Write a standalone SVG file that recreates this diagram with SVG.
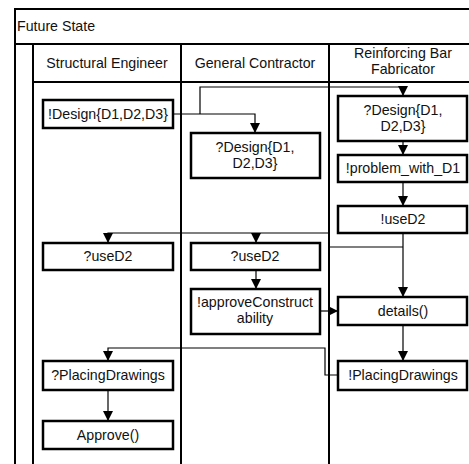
<svg xmlns="http://www.w3.org/2000/svg" width="469" height="464" viewBox="0 0 469 464">
<style>
.frame{fill:none;stroke:#000;stroke-width:2}
.box{fill:#fff;stroke:#000;stroke-width:2.5}
.t{font-family:"Liberation Sans",Arial,sans-serif;font-size:14.2px;fill:#111}
.c{text-anchor:middle}
.ln{fill:none;stroke:#000;stroke-width:1.2}
</style>
<defs>
<marker id="ah" markerWidth="10" markerHeight="10" refX="9" refY="5" orient="auto" markerUnits="userSpaceOnUse">
<path d="M0,0 L10,5 L0,10 Z" fill="#000"/>
</marker>
</defs>
<g id="pool">
<rect class="frame" x="15" y="9" width="470" height="470"/>
<line class="frame" x1="15" y1="44" x2="469" y2="44"/>
<line class="frame" x1="33" y1="44" x2="33" y2="464"/>
<line class="frame" x1="33" y1="82" x2="469" y2="82"/>
<line class="frame" x1="181" y1="44" x2="181" y2="464"/>
<line class="frame" x1="329" y1="44" x2="329" y2="464"/>
<text class="t" x="17" y="31">Future State</text>
<text class="t c" x="107" y="68">Structural Engineer</text>
<text class="t c" x="255" y="68">General Contractor</text>
<text class="t c" x="403" y="58">Reinforcing Bar</text>
<text class="t c" x="403" y="74">Fabricator</text>
</g>
<g id="connectors">
<polyline class="ln" points="173,114 255,114 255,132" marker-end="url(#ah)"/>
<polyline class="ln" points="200,114 200,87 403,87 403,95" marker-end="url(#ah)"/>
<line class="ln" x1="403" y1="141" x2="403" y2="154" marker-end="url(#ah)"/>
<line class="ln" x1="403" y1="182" x2="403" y2="205" marker-end="url(#ah)"/>
<line class="ln" x1="403" y1="233" x2="403" y2="296" marker-end="url(#ah)"/>
<polyline class="ln" points="403,247 329,247 329,233 108,233 108,242" marker-end="url(#ah)"/>
<line class="ln" x1="256" y1="233" x2="256" y2="242" marker-end="url(#ah)"/>
<line class="ln" x1="256" y1="270" x2="256" y2="288" marker-end="url(#ah)"/>
<line class="ln" x1="320" y1="311" x2="337" y2="311" marker-end="url(#ah)"/>
<line class="ln" x1="403" y1="325" x2="403" y2="360" marker-end="url(#ah)"/>
<polyline class="ln" points="338,375 325,375 325,348 108,348 108,360" marker-end="url(#ah)"/>
<line class="ln" x1="108" y1="390" x2="108" y2="420" marker-end="url(#ah)"/>
</g>
<g id="se_design"><rect class="box" x="43" y="100" width="130" height="28"/><text class="t c" x="108" y="119">!Design{D1,D2,D3}</text></g>
<g id="gc_design"><rect class="box" x="191" y="133" width="129" height="45"/><text class="t c" x="255" y="152">?Design{D1,</text><text class="t c" x="255" y="168">D2,D3}</text></g>
<g id="rbf_design"><rect class="box" x="338" y="96" width="129" height="45"/><text class="t c" x="403" y="115">?Design{D1,</text><text class="t c" x="403" y="131">D2,D3}</text></g>
<g id="rbf_problem"><rect class="box" x="338" y="155" width="129" height="27"/><text class="t c" x="403" y="173">!problem_with_D1</text></g>
<g id="rbf_used2"><rect class="box" x="338" y="206" width="129" height="27"/><text class="t c" x="403" y="224">!useD2</text></g>
<g id="se_used2"><rect class="box" x="43" y="243" width="130" height="27"/><text class="t c" x="108" y="261">?useD2</text></g>
<g id="gc_used2"><rect class="box" x="191" y="243" width="129" height="27"/><text class="t c" x="255" y="261">?useD2</text></g>
<g id="gc_approve"><rect class="box" x="191" y="289" width="129" height="45"/><text class="t c" x="255" y="307">!approveConstruct</text><text class="t c" x="255" y="323">ability</text></g>
<g id="rbf_details"><rect class="box" x="338" y="297" width="129" height="28"/><text class="t c" x="403" y="316">details()</text></g>
<g id="rbf_placing"><rect class="box" x="338" y="361" width="129" height="29"/><text class="t c" x="403" y="380">!PlacingDrawings</text></g>
<g id="se_placing"><rect class="box" x="43" y="361" width="130" height="29"/><text class="t c" x="108" y="380">?PlacingDrawings</text></g>
<g id="se_approve"><rect class="box" x="43" y="421" width="130" height="28"/><text class="t c" x="108" y="440">Approve()</text></g>
</svg>
